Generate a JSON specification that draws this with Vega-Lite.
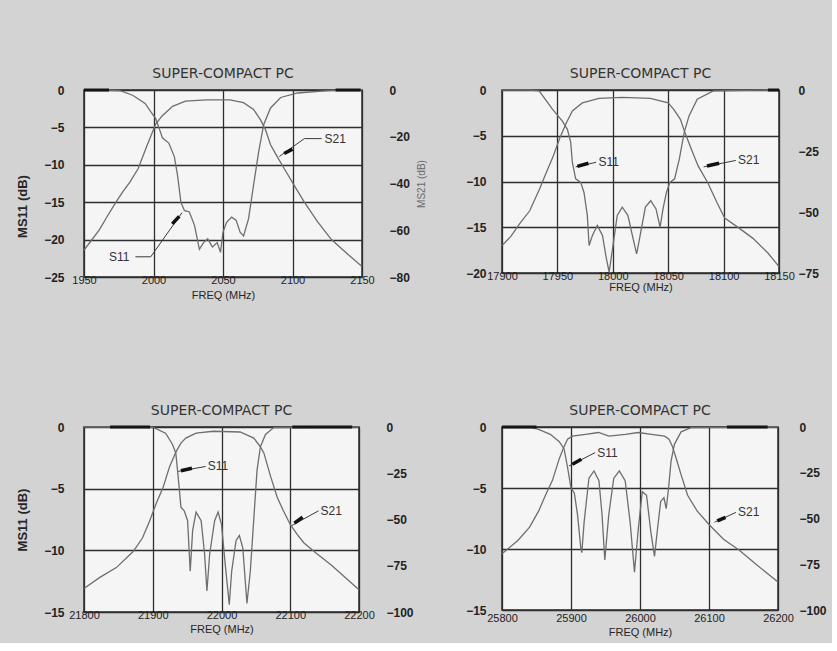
{
  "$schema": "https://vega.github.io/schema/vega-lite/v6.json",
  "background": "#d3d3d3",
  "padding": {"left": 15, "top": 66, "right": 5, "bottom": 5},
  "config": {
    "view": {"fill": "#f5f5f5", "stroke": "#2b2b2b", "strokeWidth": 1.5},
    "title": {"font": "DejaVu Sans", "fontSize": 14, "fontWeight": "normal", "color": "#333333", "offset": 3},
    "axis": {"domain": false, "ticks": false, "tickCount": 20, "labelFont": "Liberation Sans", "labelColor": "#222222", "titleFont": "Liberation Sans", "titleColor": "#262626", "gridColor": "#2e2e2e", "gridWidth": 1.3, "gridOpacity": 1, "labelOverlap": false, "labelBound": false, "labelFlush": false},
    "axisX": {"grid": true, "labelBaseline": "middle", "labelPadding": 3, "labelFontSize": 11, "titleFontSize": 11, "titleFontWeight": "normal", "titlePadding": 2},
    "axisLeft": {"grid": true, "labelFontSize": 12, "labelFontWeight": "bold", "labelPadding": 20, "titleFontSize": 13, "titleFontWeight": "bold", "titlePadding": 14},
    "axisRight": {"grid": false, "labelFontSize": 12, "labelFontWeight": "bold", "labelPadding": 27, "labelAlign": "left", "titleFontSize": 10, "titleFontWeight": "normal", "titleColor": "#6a6a6a", "titleAngle": 270, "titlePadding": 17}
  },
  "datasets": {
    "curves": [
      {"panel":1,"curve":"S11","freq":1950,"db":0},{"panel":1,"curve":"S11","freq":1965,"db":0},{"panel":1,"curve":"S11","freq":1976,"db":-0.1},{"panel":1,"curve":"S11","freq":1985,"db":-0.7},{"panel":1,"curve":"S11","freq":1994,"db":-1.8},{"panel":1,"curve":"S11","freq":1998,"db":-2.9},{"panel":1,"curve":"S11","freq":2001.5,"db":-3.8},{"panel":1,"curve":"S11","freq":2004.4,"db":-5.3},{"panel":1,"curve":"S11","freq":2006.4,"db":-6.4},{"panel":1,"curve":"S11","freq":2011,"db":-7.1},{"panel":1,"curve":"S11","freq":2015,"db":-8.9},{"panel":1,"curve":"S11","freq":2017.3,"db":-11.4},{"panel":1,"curve":"S11","freq":2019.7,"db":-15},{"panel":1,"curve":"S11","freq":2022.2,"db":-16.1},{"panel":1,"curve":"S11","freq":2025.8,"db":-16.3},{"panel":1,"curve":"S11","freq":2029.5,"db":-18.1},{"panel":1,"curve":"S11","freq":2033,"db":-21.3},{"panel":1,"curve":"S11","freq":2036,"db":-20.4},{"panel":1,"curve":"S11","freq":2039,"db":-19.9},{"panel":1,"curve":"S11","freq":2042.4,"db":-21},{"panel":1,"curve":"S11","freq":2045.8,"db":-20.4},{"panel":1,"curve":"S11","freq":2048.2,"db":-21.7},{"panel":1,"curve":"S11","freq":2050,"db":-19},{"panel":1,"curve":"S11","freq":2052.6,"db":-17.7},{"panel":1,"curve":"S11","freq":2056.2,"db":-17},{"panel":1,"curve":"S11","freq":2059.4,"db":-17.4},{"panel":1,"curve":"S11","freq":2062.3,"db":-19},{"panel":1,"curve":"S11","freq":2064.8,"db":-19.5},{"panel":1,"curve":"S11","freq":2068.4,"db":-17.2},{"panel":1,"curve":"S11","freq":2072,"db":-12.7},{"panel":1,"curve":"S11","freq":2075.7,"db":-8.2},{"panel":1,"curve":"S11","freq":2079.3,"db":-4.6},{"panel":1,"curve":"S11","freq":2084.2,"db":-2.4},{"panel":1,"curve":"S11","freq":2091.5,"db":-1},{"panel":1,"curve":"S11","freq":2103.7,"db":-0.4},{"panel":1,"curve":"S11","freq":2128,"db":-0.05},{"panel":1,"curve":"S11","freq":2150,"db":0},
      {"panel":1,"curve":"S21","freq":1950,"db":-68.5},{"panel":1,"curve":"S21","freq":1955,"db":-64.6},{"panel":1,"curve":"S21","freq":1961,"db":-59.8},{"panel":1,"curve":"S21","freq":1967,"db":-53.8},{"panel":1,"curve":"S21","freq":1973,"db":-48},{"panel":1,"curve":"S21","freq":1978,"db":-43.5},{"panel":1,"curve":"S21","freq":1983,"db":-39.4},{"panel":1,"curve":"S21","freq":1989,"db":-33.6},{"panel":1,"curve":"S21","freq":1995,"db":-24.3},{"panel":1,"curve":"S21","freq":2001.5,"db":-14.7},{"panel":1,"curve":"S21","freq":2006,"db":-11.2},{"panel":1,"curve":"S21","freq":2013.7,"db":-7},{"panel":1,"curve":"S21","freq":2023,"db":-4.8},{"panel":1,"curve":"S21","freq":2038,"db":-4.2},{"panel":1,"curve":"S21","freq":2055,"db":-4.2},{"panel":1,"curve":"S21","freq":2064.7,"db":-5.4},{"panel":1,"curve":"S21","freq":2072,"db":-8.3},{"panel":1,"curve":"S21","freq":2077,"db":-12.8},{"panel":1,"curve":"S21","freq":2080.6,"db":-17},{"panel":1,"curve":"S21","freq":2084.2,"db":-23.4},{"panel":1,"curve":"S21","freq":2089,"db":-28.5},{"panel":1,"curve":"S21","freq":2094,"db":-33.6},{"panel":1,"curve":"S21","freq":2101,"db":-40.6},{"panel":1,"curve":"S21","freq":2108.5,"db":-48},{"panel":1,"curve":"S21","freq":2118,"db":-56.3},{"panel":1,"curve":"S21","freq":2128,"db":-64},{"panel":1,"curve":"S21","freq":2140,"db":-70.4},{"panel":1,"curve":"S21","freq":2150,"db":-75.5},
      {"panel":2,"curve":"S11","freq":17900,"db":0},{"panel":2,"curve":"S11","freq":17925,"db":0},{"panel":2,"curve":"S11","freq":17933.5,"db":-0.1},{"panel":2,"curve":"S11","freq":17945.5,"db":-2.1},{"panel":2,"curve":"S11","freq":17954.5,"db":-3.4},{"panel":2,"curve":"S11","freq":17959,"db":-4.3},{"panel":2,"curve":"S11","freq":17962,"db":-5.7},{"panel":2,"curve":"S11","freq":17963.5,"db":-7.9},{"panel":2,"curve":"S11","freq":17966.5,"db":-9.7},{"panel":2,"curve":"S11","freq":17971,"db":-10.1},{"panel":2,"curve":"S11","freq":17974,"db":-11.2},{"panel":2,"curve":"S11","freq":17977,"db":-13.7},{"panel":2,"curve":"S11","freq":17978.6,"db":-17},{"panel":2,"curve":"S11","freq":17981.6,"db":-15.9},{"panel":2,"curve":"S11","freq":17986,"db":-14.8},{"panel":2,"curve":"S11","freq":17990.7,"db":-15.9},{"panel":2,"curve":"S11","freq":17993.7,"db":-18.1},{"panel":2,"curve":"S11","freq":17996.7,"db":-19.9},{"panel":2,"curve":"S11","freq":17999.7,"db":-17.4},{"panel":2,"curve":"S11","freq":18004,"db":-13.7},{"panel":2,"curve":"S11","freq":18008.5,"db":-12.8},{"panel":2,"curve":"S11","freq":18013.6,"db":-13.7},{"panel":2,"curve":"S11","freq":18018.4,"db":-16.3},{"panel":2,"curve":"S11","freq":18021.5,"db":-17.9},{"panel":2,"curve":"S11","freq":18024.7,"db":-15.9},{"panel":2,"curve":"S11","freq":18029.4,"db":-12.8},{"panel":2,"curve":"S11","freq":18034.2,"db":-12.1},{"panel":2,"curve":"S11","freq":18039,"db":-13},{"panel":2,"curve":"S11","freq":18042.7,"db":-15},{"panel":2,"curve":"S11","freq":18045.3,"db":-13},{"panel":2,"curve":"S11","freq":18048.4,"db":-11.2},{"panel":2,"curve":"S11","freq":18051.5,"db":-10.1},{"panel":2,"curve":"S11","freq":18055.8,"db":-9.7},{"panel":2,"curve":"S11","freq":18060.1,"db":-7.5},{"panel":2,"curve":"S11","freq":18064.5,"db":-4.6},{"panel":2,"curve":"S11","freq":18068.9,"db":-2.8},{"panel":2,"curve":"S11","freq":18076.2,"db":-1},{"panel":2,"curve":"S11","freq":18090.7,"db":-0.1},{"panel":2,"curve":"S11","freq":18150,"db":0},
      {"panel":2,"curve":"S21","freq":17900,"db":-63.8},{"panel":2,"curve":"S21","freq":17908,"db":-60},{"panel":2,"curve":"S21","freq":17916,"db":-54.8},{"panel":2,"curve":"S21","freq":17925,"db":-49.5},{"panel":2,"curve":"S21","freq":17934,"db":-40.5},{"panel":2,"curve":"S21","freq":17940,"db":-33.8},{"panel":2,"curve":"S21","freq":17946,"db":-27.4},{"panel":2,"curve":"S21","freq":17952,"db":-19.9},{"panel":2,"curve":"S21","freq":17958,"db":-13.5},{"panel":2,"curve":"S21","freq":17963.5,"db":-8.6},{"panel":2,"curve":"S21","freq":17972.5,"db":-5.3},{"panel":2,"curve":"S21","freq":17987.5,"db":-3.4},{"panel":2,"curve":"S21","freq":18008.5,"db":-3},{"panel":2,"curve":"S21","freq":18034,"db":-3.4},{"panel":2,"curve":"S21","freq":18050,"db":-5.3},{"panel":2,"curve":"S21","freq":18055,"db":-7.9},{"panel":2,"curve":"S21","freq":18061,"db":-12},{"panel":2,"curve":"S21","freq":18065,"db":-17.3},{"panel":2,"curve":"S21","freq":18071,"db":-24.4},{"panel":2,"curve":"S21","freq":18077,"db":-31.1},{"panel":2,"curve":"S21","freq":18085.6,"db":-37.9},{"panel":2,"curve":"S21","freq":18094,"db":-46.1},{"panel":2,"curve":"S21","freq":18101,"db":-52.5},{"panel":2,"curve":"S21","freq":18113,"db":-56.3},{"panel":2,"curve":"S21","freq":18126.5,"db":-60.8},{"panel":2,"curve":"S21","freq":18140,"db":-66.8},{"panel":2,"curve":"S21","freq":18150,"db":-72.4},
      {"panel":3,"curve":"S11","freq":21800,"db":0},{"panel":3,"curve":"S11","freq":21880,"db":0},{"panel":3,"curve":"S11","freq":21901.5,"db":-0.05},{"panel":3,"curve":"S11","freq":21918.7,"db":-0.5},{"panel":3,"curve":"S11","freq":21928.6,"db":-1.4},{"panel":3,"curve":"S11","freq":21933.5,"db":-2.1},{"panel":3,"curve":"S11","freq":21936,"db":-3.5},{"panel":3,"curve":"S11","freq":21938.4,"db":-4.9},{"panel":3,"curve":"S11","freq":21941,"db":-6.5},{"panel":3,"curve":"S11","freq":21945.8,"db":-6.8},{"panel":3,"curve":"S11","freq":21950.7,"db":-7.6},{"panel":3,"curve":"S11","freq":21953.2,"db":-10.3},{"panel":3,"curve":"S11","freq":21954.5,"db":-11.7},{"panel":3,"curve":"S11","freq":21958,"db":-8.4},{"panel":3,"curve":"S11","freq":21963,"db":-6.9},{"panel":3,"curve":"S11","freq":21970.4,"db":-7.6},{"panel":3,"curve":"S11","freq":21975.4,"db":-10.3},{"panel":3,"curve":"S11","freq":21978.8,"db":-13.3},{"panel":3,"curve":"S11","freq":21982.8,"db":-10.3},{"panel":3,"curve":"S11","freq":21990,"db":-7.6},{"panel":3,"curve":"S11","freq":21995,"db":-6.9},{"panel":3,"curve":"S11","freq":22000,"db":-7.9},{"panel":3,"curve":"S11","freq":22005,"db":-10.9},{"panel":3,"curve":"S11","freq":22011.3,"db":-14.4},{"panel":3,"curve":"S11","freq":22014.8,"db":-11.7},{"panel":3,"curve":"S11","freq":22021.2,"db":-9.2},{"panel":3,"curve":"S11","freq":22026,"db":-8.8},{"panel":3,"curve":"S11","freq":22031,"db":-9.8},{"panel":3,"curve":"S11","freq":22037,"db":-14.3},{"panel":3,"curve":"S11","freq":22041.9,"db":-11.7},{"panel":3,"curve":"S11","freq":22046.8,"db":-7.6},{"panel":3,"curve":"S11","freq":22051.7,"db":-3.5},{"panel":3,"curve":"S11","freq":22056.6,"db":-1.6},{"panel":3,"curve":"S11","freq":22064,"db":-0.6},{"panel":3,"curve":"S11","freq":22076,"db":-0.05},{"panel":3,"curve":"S11","freq":22200,"db":0},
      {"panel":3,"curve":"S21","freq":21800,"db":-87.3},{"panel":3,"curve":"S21","freq":21823,"db":-81.3},{"panel":3,"curve":"S21","freq":21847,"db":-76},{"panel":3,"curve":"S21","freq":21871.5,"db":-67.3},{"panel":3,"curve":"S21","freq":21885,"db":-60},{"panel":3,"curve":"S21","freq":21895.6,"db":-50.7},{"panel":3,"curve":"S21","freq":21905,"db":-41.3},{"panel":3,"curve":"S21","freq":21915,"db":-32.7},{"panel":3,"curve":"S21","freq":21924.6,"db":-21.3},{"panel":3,"curve":"S21","freq":21934,"db":-13.3},{"panel":3,"curve":"S21","freq":21941,"db":-8.7},{"panel":3,"curve":"S21","freq":21948,"db":-6},{"panel":3,"curve":"S21","freq":21963,"db":-3.3},{"panel":3,"curve":"S21","freq":21988,"db":-2.3},{"panel":3,"curve":"S21","freq":22027,"db":-2.7},{"panel":3,"curve":"S21","freq":22047,"db":-6},{"panel":3,"curve":"S21","freq":22056.6,"db":-10.7},{"panel":3,"curve":"S21","freq":22061.6,"db":-14},{"panel":3,"curve":"S21","freq":22071.4,"db":-26.7},{"panel":3,"curve":"S21","freq":22081,"db":-38},{"panel":3,"curve":"S21","freq":22090,"db":-45.3},{"panel":3,"curve":"S21","freq":22100,"db":-52.7},{"panel":3,"curve":"S21","freq":22110,"db":-58},{"panel":3,"curve":"S21","freq":22120,"db":-62.7},{"panel":3,"curve":"S21","freq":22137,"db":-68},{"panel":3,"curve":"S21","freq":22160,"db":-74.7},{"panel":3,"curve":"S21","freq":22180,"db":-81.3},{"panel":3,"curve":"S21","freq":22200,"db":-88},
      {"panel":4,"curve":"S11","freq":25800,"db":0},{"panel":4,"curve":"S11","freq":25840,"db":0},{"panel":4,"curve":"S11","freq":25853,"db":-0.2},{"panel":4,"curve":"S11","freq":25870,"db":-0.6},{"panel":4,"curve":"S11","freq":25883,"db":-1.2},{"panel":4,"curve":"S11","freq":25890,"db":-1.8},{"panel":4,"curve":"S11","freq":25895,"db":-3.3},{"panel":4,"curve":"S11","freq":25900,"db":-5},{"panel":4,"curve":"S11","freq":25904.8,"db":-5.4},{"panel":4,"curve":"S11","freq":25909.5,"db":-7.2},{"panel":4,"curve":"S11","freq":25914.3,"db":-10},{"panel":4,"curve":"S11","freq":25915.7,"db":-10.3},{"panel":4,"curve":"S11","freq":25919,"db":-7.8},{"panel":4,"curve":"S11","freq":25926,"db":-4.2},{"panel":4,"curve":"S11","freq":25933.3,"db":-3.6},{"panel":4,"curve":"S11","freq":25940.5,"db":-4.4},{"panel":4,"curve":"S11","freq":25945,"db":-7.2},{"panel":4,"curve":"S11","freq":25949,"db":-10.9},{"panel":4,"curve":"S11","freq":25954.7,"db":-7.2},{"panel":4,"curve":"S11","freq":25962,"db":-4.2},{"panel":4,"curve":"S11","freq":25970,"db":-3.6},{"panel":4,"curve":"S11","freq":25978.5,"db":-4.4},{"panel":4,"curve":"S11","freq":25985.7,"db":-7.8},{"panel":4,"curve":"S11","freq":25992,"db":-11.9},{"panel":4,"curve":"S11","freq":25997.6,"db":-8.3},{"panel":4,"curve":"S11","freq":26003.3,"db":-5.3},{"panel":4,"curve":"S11","freq":26009.5,"db":-5.6},{"panel":4,"curve":"S11","freq":26015.7,"db":-8.6},{"panel":4,"curve":"S11","freq":26021,"db":-10.6},{"panel":4,"curve":"S11","freq":26025.5,"db":-8.3},{"panel":4,"curve":"S11","freq":26030,"db":-6.1},{"panel":4,"curve":"S11","freq":26034.7,"db":-5.8},{"panel":4,"curve":"S11","freq":26038,"db":-6.7},{"panel":4,"curve":"S11","freq":26041.4,"db":-5},{"panel":4,"curve":"S11","freq":26045,"db":-2.8},{"panel":4,"curve":"S11","freq":26050,"db":-1.4},{"panel":4,"curve":"S11","freq":26059.5,"db":-0.4},{"panel":4,"curve":"S11","freq":26074,"db":-0.05},{"panel":4,"curve":"S11","freq":26200,"db":0},
      {"panel":4,"curve":"S21","freq":25800,"db":-69.3},{"panel":4,"curve":"S21","freq":25823,"db":-62},{"panel":4,"curve":"S21","freq":25840,"db":-54.7},{"panel":4,"curve":"S21","freq":25853,"db":-46},{"panel":4,"curve":"S21","freq":25863,"db":-37.3},{"panel":4,"curve":"S21","freq":25873,"db":-29.3},{"panel":4,"curve":"S21","freq":25883,"db":-17.3},{"panel":4,"curve":"S21","freq":25890,"db":-10.7},{"panel":4,"curve":"S21","freq":25895,"db":-6.7},{"panel":4,"curve":"S21","freq":25902,"db":-5},{"panel":4,"curve":"S21","freq":25921,"db":-4},{"panel":4,"curve":"S21","freq":25940,"db":-3},{"panel":4,"curve":"S21","freq":25955,"db":-5},{"panel":4,"curve":"S21","freq":25978.6,"db":-4},{"panel":4,"curve":"S21","freq":25997.6,"db":-3},{"panel":4,"curve":"S21","freq":26016.7,"db":-4},{"panel":4,"curve":"S21","freq":26035.7,"db":-5},{"panel":4,"curve":"S21","freq":26042,"db":-6.7},{"panel":4,"curve":"S21","freq":26047,"db":-10.7},{"panel":4,"curve":"S21","freq":26052,"db":-16.7},{"panel":4,"curve":"S21","freq":26059.5,"db":-26},{"panel":4,"curve":"S21","freq":26069,"db":-37.3},{"panel":4,"curve":"S21","freq":26083,"db":-46},{"panel":4,"curve":"S21","freq":26100,"db":-53.3},{"panel":4,"curve":"S21","freq":26121,"db":-61.3},{"panel":4,"curve":"S21","freq":26144,"db":-67.3},{"panel":4,"curve":"S21","freq":26169,"db":-75.3},{"panel":4,"curve":"S21","freq":26200,"db":-84.7}
    ],
    "bars": [
      {"panel":1,"x":1950,"x2":1968,"y":0},{"panel":1,"x":2131,"x2":2149,"y":0},
      {"panel":2,"x":18140,"x2":18150,"y":0},
      {"panel":3,"x":21838,"x2":21896,"y":0},{"panel":3,"x":22103,"x2":22190,"y":0},
      {"panel":4,"x":25800,"x2":25850,"y":0},{"panel":4,"x":26126,"x2":26185,"y":0}
    ],
    "leaders": [
      {"panel":1,"x":1987,"y":-22.3,"x2":1998,"y2":-22.3},{"panel":1,"x":1998,"y":-22.3,"x2":2020.5,"y2":-16.4},
      {"panel":1,"x":2121,"y":-6.5,"x2":2108.5,"y2":-6.5},{"panel":1,"x":2108.5,"y":-6.5,"x2":2090.5,"y2":-8.9},
      {"panel":2,"x":17985,"y":-7.9,"x2":17966.5,"y2":-8.4},
      {"panel":2,"x":18111,"y":-7.7,"x2":18082,"y2":-8.4},
      {"panel":3,"x":21977,"y":-3.2,"x2":21937,"y2":-3.6},
      {"panel":3,"x":22141,"y":-6.8,"x2":22102,"y2":-8.0},
      {"panel":4,"x":25935,"y":-2.1,"x2":25897,"y2":-3.2},
      {"panel":4,"x":26139,"y":-7.0,"x2":26108,"y2":-7.8}
    ],
    "heads": [
      {"panel":1,"x":2013.5,"y":-17.9,"x2":2018.5,"y2":-16.9},
      {"panel":1,"x":2094,"y":-8.5,"x2":2100,"y2":-7.9},
      {"panel":2,"x":17968,"y":-8.35,"x2":17978,"y2":-8.0},
      {"panel":2,"x":18085,"y":-8.3,"x2":18096,"y2":-8.0},
      {"panel":3,"x":21941,"y":-3.55,"x2":21957,"y2":-3.35},
      {"panel":3,"x":22106,"y":-7.8,"x2":22118,"y2":-7.3},
      {"panel":4,"x":25902,"y":-3.05,"x2":25915,"y2":-2.65},
      {"panel":4,"x":26112,"y":-7.7,"x2":26124,"y2":-7.4}
    ],
    "labels": [
      {"panel":1,"text":"S11","x":1968,"y":-22.3},{"panel":1,"text":"S21","x":2123,"y":-6.5},
      {"panel":2,"text":"S11","x":17987,"y":-7.9},{"panel":2,"text":"S21","x":18113,"y":-7.7},
      {"panel":3,"text":"S11","x":21980,"y":-3.2},{"panel":3,"text":"S21","x":22144,"y":-6.8},
      {"panel":4,"text":"S11","x":25938,"y":-2.1},{"panel":4,"text":"S21","x":26142,"y":-7.0}
    ]
  },
  "columns": 2,
  "bounds": "flush",
  "spacing": {"row": 150, "column": 140},
  "concat": [
    {
      "title": "SUPER-COMPACT PC",
      "width": 278, "height": 187,
      "layer": [
        {"layer": [
          {"data": {"name": "curves"}, "transform": [{"filter": "datum.panel == 1 && datum.curve == 'S11'"}],
           "mark": {"type": "line", "color": "#6e6e6e", "strokeWidth": 1.3},
           "encoding": {
             "x": {"field": "freq", "type": "quantitative", "scale": {"domain": [1950, 2150], "nice": false, "zero": false}, "axis": {"values": [1950, 2000, 2050, 2100, 2150], "tickCount": 20, "format": "d", "title": "FREQ (MHz)", "titlePadding": 4}},
             "y": {"field": "db", "type": "quantitative", "scale": {"domain": [-25, 0], "nice": false, "zero": false}, "axis": {"values": [0, -5, -10, -15, -20, -25], "tickCount": 20, "title": "MS11 (dB)", "titleY": 116}}
           }},
          {"data": {"name": "bars"}, "transform": [{"filter": "datum.panel == 1"}],
           "mark": {"type": "rule", "color": "#151515", "strokeWidth": 3},
           "encoding": {"x": {"field": "x", "type": "quantitative"}, "x2": {"field": "x2"}, "y": {"field": "y", "type": "quantitative"}}},
          {"data": {"name": "leaders"}, "transform": [{"filter": "datum.panel == 1"}],
           "mark": {"type": "rule", "color": "#3a3a3a", "strokeWidth": 1},
           "encoding": {"x": {"field": "x", "type": "quantitative"}, "y": {"field": "y", "type": "quantitative"}, "x2": {"field": "x2"}, "y2": {"field": "y2"}}},
          {"data": {"name": "heads"}, "transform": [{"filter": "datum.panel == 1"}],
           "mark": {"type": "rule", "color": "#111111", "strokeWidth": 3.5},
           "encoding": {"x": {"field": "x", "type": "quantitative"}, "y": {"field": "y", "type": "quantitative"}, "x2": {"field": "x2"}, "y2": {"field": "y2"}}},
          {"data": {"name": "labels"}, "transform": [{"filter": "datum.panel == 1"}],
           "mark": {"type": "text", "align": "left", "baseline": "middle", "font": "Liberation Sans", "fontSize": 12, "color": "#333333"},
           "encoding": {"x": {"field": "x", "type": "quantitative"}, "y": {"field": "y", "type": "quantitative"}, "text": {"field": "text"}}}
        ]},
        {"data": {"name": "curves"}, "transform": [{"filter": "datum.panel == 1 && datum.curve == 'S21'"}],
         "mark": {"type": "line", "color": "#6e6e6e", "strokeWidth": 1.3},
         "encoding": {
           "x": {"field": "freq", "type": "quantitative"},
           "y": {"field": "db", "type": "quantitative", "scale": {"domain": [-80, 0], "nice": false, "zero": false}, "axis": {"orient": "right", "values": [0, -20, -40, -60, -80], "tickCount": 20, "title": "MS21 (dB)"}}
         }}
      ],
      "resolve": {"scale": {"y": "independent"}, "axis": {"y": "independent"}}
    },
    {
      "title": "SUPER-COMPACT PC",
      "width": 277, "height": 183,
      "layer": [
        {"layer": [
          {"data": {"name": "curves"}, "transform": [{"filter": "datum.panel == 2 && datum.curve == 'S11'"}],
           "mark": {"type": "line", "color": "#6e6e6e", "strokeWidth": 1.3},
           "encoding": {
             "x": {"field": "freq", "type": "quantitative", "scale": {"domain": [17900, 18150], "nice": false, "zero": false}, "axis": {"values": [17900, 17950, 18000, 18050, 18100, 18150], "tickCount": 20, "format": "d", "title": "FREQ (MHz)", "titlePadding": 0}},
             "y": {"field": "db", "type": "quantitative", "scale": {"domain": [-20, 0], "nice": false, "zero": false}, "axis": {"values": [0, -5, -10, -15, -20], "tickCount": 20, "title": null, "labelPadding": 16}}
           }},
          {"data": {"name": "bars"}, "transform": [{"filter": "datum.panel == 2"}],
           "mark": {"type": "rule", "color": "#151515", "strokeWidth": 3},
           "encoding": {"x": {"field": "x", "type": "quantitative"}, "x2": {"field": "x2"}, "y": {"field": "y", "type": "quantitative"}}},
          {"data": {"name": "leaders"}, "transform": [{"filter": "datum.panel == 2"}],
           "mark": {"type": "rule", "color": "#3a3a3a", "strokeWidth": 1},
           "encoding": {"x": {"field": "x", "type": "quantitative"}, "y": {"field": "y", "type": "quantitative"}, "x2": {"field": "x2"}, "y2": {"field": "y2"}}},
          {"data": {"name": "heads"}, "transform": [{"filter": "datum.panel == 2"}],
           "mark": {"type": "rule", "color": "#111111", "strokeWidth": 3.5},
           "encoding": {"x": {"field": "x", "type": "quantitative"}, "y": {"field": "y", "type": "quantitative"}, "x2": {"field": "x2"}, "y2": {"field": "y2"}}},
          {"data": {"name": "labels"}, "transform": [{"filter": "datum.panel == 2"}],
           "mark": {"type": "text", "align": "left", "baseline": "middle", "font": "Liberation Sans", "fontSize": 12, "color": "#333333"},
           "encoding": {"x": {"field": "x", "type": "quantitative"}, "y": {"field": "y", "type": "quantitative"}, "text": {"field": "text"}}}
        ]},
        {"data": {"name": "curves"}, "transform": [{"filter": "datum.panel == 2 && datum.curve == 'S21'"}],
         "mark": {"type": "line", "color": "#6e6e6e", "strokeWidth": 1.3},
         "encoding": {
           "x": {"field": "freq", "type": "quantitative"},
           "y": {"field": "db", "type": "quantitative", "scale": {"domain": [-75, 0], "nice": false, "zero": false}, "axis": {"orient": "right", "values": [0, -25, -50, -75], "tickCount": 20, "title": null, "labelPadding": 19}}
         }}
      ],
      "resolve": {"scale": {"y": "independent"}, "axis": {"y": "independent"}}
    },
    {
      "title": "SUPER-COMPACT PC",
      "width": 275, "height": 185,
      "layer": [
        {"layer": [
          {"data": {"name": "curves"}, "transform": [{"filter": "datum.panel == 3 && datum.curve == 'S11'"}],
           "mark": {"type": "line", "color": "#6e6e6e", "strokeWidth": 1.3},
           "encoding": {
             "x": {"field": "freq", "type": "quantitative", "scale": {"domain": [21800, 22200], "nice": false, "zero": false}, "axis": {"values": [21800, 21900, 22000, 22100, 22200], "tickCount": 20, "format": "d", "title": "FREQ (MHz)", "titlePadding": 3}},
             "y": {"field": "db", "type": "quantitative", "scale": {"domain": [-15, 0], "nice": false, "zero": false}, "axis": {"values": [0, -5, -10, -15], "tickCount": 20, "title": "MS11 (dB)"}}
           }},
          {"data": {"name": "bars"}, "transform": [{"filter": "datum.panel == 3"}],
           "mark": {"type": "rule", "color": "#151515", "strokeWidth": 3},
           "encoding": {"x": {"field": "x", "type": "quantitative"}, "x2": {"field": "x2"}, "y": {"field": "y", "type": "quantitative"}}},
          {"data": {"name": "leaders"}, "transform": [{"filter": "datum.panel == 3"}],
           "mark": {"type": "rule", "color": "#3a3a3a", "strokeWidth": 1},
           "encoding": {"x": {"field": "x", "type": "quantitative"}, "y": {"field": "y", "type": "quantitative"}, "x2": {"field": "x2"}, "y2": {"field": "y2"}}},
          {"data": {"name": "heads"}, "transform": [{"filter": "datum.panel == 3"}],
           "mark": {"type": "rule", "color": "#111111", "strokeWidth": 3.5},
           "encoding": {"x": {"field": "x", "type": "quantitative"}, "y": {"field": "y", "type": "quantitative"}, "x2": {"field": "x2"}, "y2": {"field": "y2"}}},
          {"data": {"name": "labels"}, "transform": [{"filter": "datum.panel == 3"}],
           "mark": {"type": "text", "align": "left", "baseline": "middle", "font": "Liberation Sans", "fontSize": 12, "color": "#333333"},
           "encoding": {"x": {"field": "x", "type": "quantitative"}, "y": {"field": "y", "type": "quantitative"}, "text": {"field": "text"}}}
        ]},
        {"data": {"name": "curves"}, "transform": [{"filter": "datum.panel == 3 && datum.curve == 'S21'"}],
         "mark": {"type": "line", "color": "#6e6e6e", "strokeWidth": 1.3},
         "encoding": {
           "x": {"field": "freq", "type": "quantitative"},
           "y": {"field": "db", "type": "quantitative", "scale": {"domain": [-100, 0], "nice": false, "zero": false}, "axis": {"orient": "right", "values": [0, -25, -50, -75, -100], "tickCount": 20, "title": null}}
         }}
      ],
      "resolve": {"scale": {"y": "independent"}, "axis": {"y": "independent"}}
    },
    {
      "title": "SUPER-COMPACT PC",
      "width": 276, "height": 183,
      "layer": [
        {"layer": [
          {"data": {"name": "curves"}, "transform": [{"filter": "datum.panel == 4 && datum.curve == 'S11'"}],
           "mark": {"type": "line", "color": "#6e6e6e", "strokeWidth": 1.3},
           "encoding": {
             "x": {"field": "freq", "type": "quantitative", "scale": {"domain": [25800, 26200], "nice": false, "zero": false}, "axis": {"values": [25800, 25900, 26000, 26100, 26200], "tickCount": 20, "format": "d", "title": "FREQ (MHz)", "labelPadding": 8, "titlePadding": 3}},
             "y": {"field": "db", "type": "quantitative", "scale": {"domain": [-15, 0], "nice": false, "zero": false}, "axis": {"values": [0, -5, -10, -15], "tickCount": 20, "title": null, "labelPadding": 16}}
           }},
          {"data": {"name": "bars"}, "transform": [{"filter": "datum.panel == 4"}],
           "mark": {"type": "rule", "color": "#151515", "strokeWidth": 3},
           "encoding": {"x": {"field": "x", "type": "quantitative"}, "x2": {"field": "x2"}, "y": {"field": "y", "type": "quantitative"}}},
          {"data": {"name": "leaders"}, "transform": [{"filter": "datum.panel == 4"}],
           "mark": {"type": "rule", "color": "#3a3a3a", "strokeWidth": 1},
           "encoding": {"x": {"field": "x", "type": "quantitative"}, "y": {"field": "y", "type": "quantitative"}, "x2": {"field": "x2"}, "y2": {"field": "y2"}}},
          {"data": {"name": "heads"}, "transform": [{"filter": "datum.panel == 4"}],
           "mark": {"type": "rule", "color": "#111111", "strokeWidth": 3.5},
           "encoding": {"x": {"field": "x", "type": "quantitative"}, "y": {"field": "y", "type": "quantitative"}, "x2": {"field": "x2"}, "y2": {"field": "y2"}}},
          {"data": {"name": "labels"}, "transform": [{"filter": "datum.panel == 4"}],
           "mark": {"type": "text", "align": "left", "baseline": "middle", "font": "Liberation Sans", "fontSize": 12, "color": "#333333"},
           "encoding": {"x": {"field": "x", "type": "quantitative"}, "y": {"field": "y", "type": "quantitative"}, "text": {"field": "text"}}}
        ]},
        {"data": {"name": "curves"}, "transform": [{"filter": "datum.panel == 4 && datum.curve == 'S21'"}],
         "mark": {"type": "line", "color": "#6e6e6e", "strokeWidth": 1.3},
         "encoding": {
           "x": {"field": "freq", "type": "quantitative"},
           "y": {"field": "db", "type": "quantitative", "scale": {"domain": [-100, 0], "nice": false, "zero": false}, "axis": {"orient": "right", "values": [0, -25, -50, -75, -100], "tickCount": 20, "title": null, "labelPadding": 21}}
         }}
      ],
      "resolve": {"scale": {"y": "independent"}, "axis": {"y": "independent"}}
    }
  ]
}
